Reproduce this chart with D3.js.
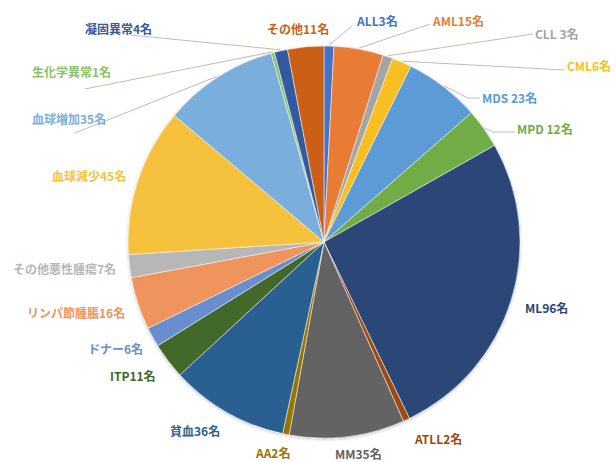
<!DOCTYPE html>
<html>
<head>
<meta charset="utf-8">
<script src="https://cdn.jsdelivr.net/npm/d3@7"></script>
<style>
  html, body { margin: 0; padding: 0; background: #fff; }
  svg { display: block; }
  text { font-family: "Noto Sans CJK JP", "Noto Sans", sans-serif; font-weight: 700; }
</style>
</head>
<body>
<svg id="chart" width="616" height="462"></svg>
<script>
// Patient counts by diagnosis, clockwise from 12 o'clock
const categories = ["ALL", "AML", "CLL", "CML", "MDS", "MPD", "ML", "ATLL", "MM", "AA",
  "貧血", "ITP", "ドナー", "リンパ節腫脹", "その他悪性腫瘍", "血球減少", "血球増加",
  "生化学異常", "凝固異常", "その他"];
const counts = [3, 15, 3, 6, 23, 12, 96, 2, 35, 2, 36, 11, 6, 16, 7, 45, 35, 1, 4, 11];
const labelTexts = ["ALL3名", "AML15名", "CLL 3名", "CML6名", "MDS 23名", "MPD 12名", "ML96名",
  "ATLL2名", "MM35名", "AA2名", "貧血36名", "ITP11名", "ドナー6名", "リンパ節腫脹16名",
  "その他悪性腫瘍7名", "血球減少45名", "血球増加35名", "生化学異常1名", "凝固異常4名", "その他11名"];

// Office-style series palette
const palette = ["#4472C4", "#E97C35", "#A5A5A5", "#F8BF22", "#5B9BD5", "#70AD47",
  "#2A4678", "#9E480E", "#636363", "#997300", "#2A5F91", "#43682B",
  "#698ED0", "#EF945C", "#B7B7B7", "#F6C23C", "#7AAEDC", "#8CC168",
  "#335AA1", "#CC5E17"];

// Label placement: left edge x, centre y, and optional leader path points on the label side
const labelLayout = [
  { x: 357, y: 20, lead: [[352, 26]] },
  { x: 433, y: 20, lead: [[430, 24]] },
  { x: 535, y: 33, lead: [[533, 34]] },
  { x: 567, y: 65, lead: [[564, 70]] },
  { x: 482, y: 97, lead: [[468, 98], [480, 98]] },
  { x: 517, y: 128, lead: [[493, 132], [515, 132]] },
  { x: 525, y: 307 },
  { x: 415, y: 438 },
  { x: 335, y: 453 },
  { x: 256, y: 452 },
  { x: 170, y: 430 },
  { x: 110, y: 375 },
  { x: 88, y: 348 },
  { x: 27, y: 312 },
  { x: 13, y: 268 },
  { x: 52, y: 175 },
  { x: 32, y: 118, lead: [[75, 133]] },
  { x: 32, y: 71, lead: [[85, 89]] },
  { x: 85, y: 28, lead: [[130, 35]] },
  { x: 267, y: 28 }
];

const data = categories.map((c, i) => ({ name: c, value: counts[i], label: labelTexts[i], color: palette[i], layout: labelLayout[i] }));

const svg = d3.select("#chart");
const cx = 324, cy = 242, radius = 196;

const defs = svg.append("defs");
const shadow = defs.append("filter").attr("id", "pieShadow")
  .attr("x", "-10%").attr("y", "-10%").attr("width", "120%").attr("height", "120%");
shadow.append("feDropShadow").attr("dx", 0).attr("dy", 1).attr("stdDeviation", 1.6)
  .attr("flood-color", "#000").attr("flood-opacity", 0.25);

const pie = d3.pie().value(d => d.value).sort(null).startAngle(0).endAngle(2 * Math.PI);
const arcs = pie(data);
const arc = d3.arc().innerRadius(0).outerRadius(radius);
const edgeArc = d3.arc().innerRadius(radius + 1).outerRadius(radius + 1);

const g = svg.append("g").attr("transform", `translate(${cx},${cy})`);

g.append("g").attr("filter", "url(#pieShadow)")
  .selectAll("path")
  .data(arcs)
  .join("path")
  .attr("d", arc)
  .attr("fill", d => d.data.color)
  .attr("stroke", "#fff")
  .attr("stroke-width", 0.5);

// Leader lines from slice edge to label
const line = d3.line();
svg.append("g")
  .selectAll("path")
  .data(arcs.filter(d => d.data.layout.lead))
  .join("path")
  .attr("d", d => {
    const [ex, ey] = edgeArc.centroid(d);
    return line([[cx + ex, cy + ey], ...d.data.layout.lead]);
  })
  .attr("fill", "none")
  .attr("stroke", "#c6b9b2")
  .attr("stroke-width", 1);

// Data labels
svg.append("g")
  .selectAll("text")
  .data(arcs)
  .join("text")
  .attr("x", d => d.data.layout.x)
  .attr("y", d => d.data.layout.y)
  .attr("dominant-baseline", "central")
  .attr("font-size", 12)
  .attr("fill", d => d.data.color)
  .text(d => d.data.label);
</script>
</body>
</html>
